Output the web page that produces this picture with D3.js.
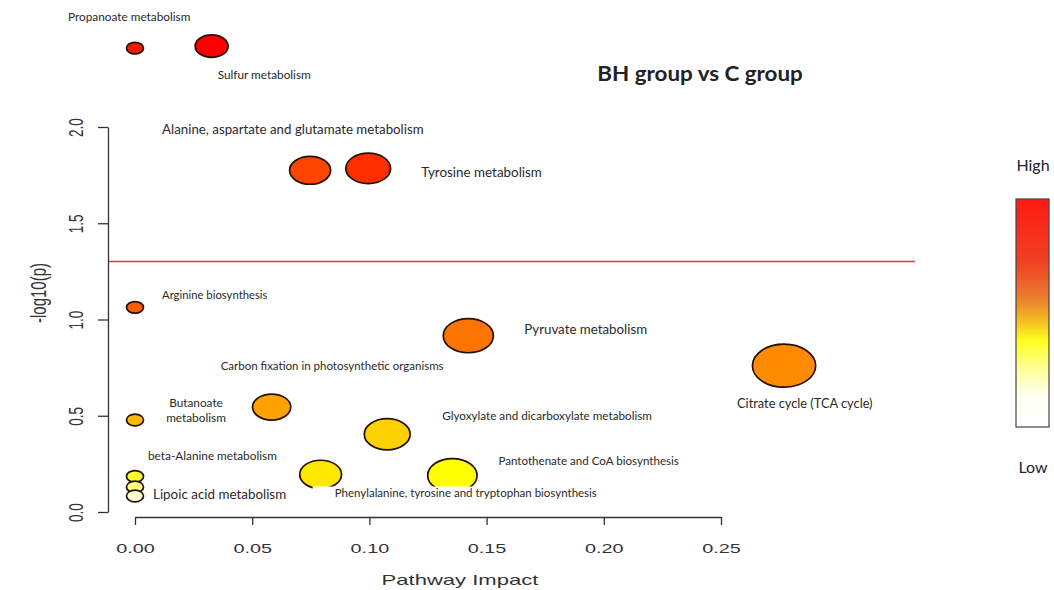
<!DOCTYPE html>
<html>
<head>
<meta charset="utf-8">
<script src="https://cdn.jsdelivr.net/npm/d3@7"></script>
<style>
  html, body { margin: 0; padding: 0; background: #fff; }
</style>
</head>
<body>
<svg id="chart" width="1054" height="590"></svg>
<script>
// Pathway topology results: BH group vs C group
const pathways = [
  "Propanoate metabolism",
  "Sulfur metabolism",
  "Alanine, aspartate and glutamate metabolism",
  "Tyrosine metabolism",
  "Arginine biosynthesis",
  "Pyruvate metabolism",
  "Carbon fixation in photosynthetic organisms",
  "Citrate cycle (TCA cycle)",
  "Butanoate metabolism",
  "Glyoxylate and dicarboxylate metabolism",
  "Pantothenate and CoA biosynthesis",
  "Phenylalanine, tyrosine and tryptophan biosynthesis",
  "beta-Alanine metabolism",
  "(unlabelled)",
  "Lipoic acid metabolism"
];
const impact = [0, 0.0327, 0.0747, 0.0995, 0, 0.1422, 0.0583, 0.2769, 0, 0.1076, 0.1354, 0.0792, 0, 0, 0];
const negLogP = [2.41, 2.42, 1.775, 1.785, 1.063, 0.916, 0.545, 0.760, 0.478, 0.404, 0.190, 0.195, 0.185, 0.130, 0.083];

const xTicks = [0, 0.05, 0.10, 0.15, 0.20, 0.25];
const yTicks = [0, 0.5, 1.0, 1.5, 2.0];
const threshold = -Math.log10(0.05);

const chartTitle = "BH group vs C group";
const xTitle = "Pathway Impact";
const yTitle = "-log10(p)";
const legendHigh = "High";
const legendLow = "Low";

// Text placement for each pathway label, relative to its bubble
const labelLayout = {
  "Propanoate metabolism": { dx: -67, dy: -31, size: 11.8 },
  "Sulfur metabolism": { dx: 6, dy: 29, size: 11.8 },
  "Alanine, aspartate and glutamate metabolism": { dx: -148, dy: -41, size: 13.3 },
  "Tyrosine metabolism": { dx: 53, dy: 4, size: 13.4 },
  "Arginine biosynthesis": { dx: 27, dy: -12, size: 11.3 },
  "Pyruvate metabolism": { dx: 56, dy: -6, size: 13.3 },
  "Carbon fixation in photosynthetic organisms": { dx: -51, dy: -41, size: 11.5 },
  "Citrate cycle (TCA cycle)": { dx: -47, dy: 38, size: 12.8 },
  "Butanoate metabolism": { dx: 61, dy: -17, size: 11.8, lines: ["Butanoate", "metabolism"], anchor: "middle" },
  "Glyoxylate and dicarboxylate metabolism": { dx: 55, dy: -18, size: 11.7 },
  "Pantothenate and CoA biosynthesis": { dx: 46, dy: -14, size: 11.6 },
  "Phenylalanine, tyrosine and tryptophan biosynthesis": { dx: 14, dy: 19, size: 11.5, box: true },
  "beta-Alanine metabolism": { dx: 13, dy: -21, size: 11.8 },
  "Lipoic acid metabolism": { dx: 18, dy: -2, size: 13.4 }
};

const W = 1054, H = 590;
const STRETCH = 1.47;   // horizontal stretch of the exported figure
const svg = d3.select("#chart");
svg.append("rect").attr("width", W).attr("height", H).attr("fill", "#fff");

const x = d3.scaleLinear().domain([0, 0.25]).range([135, 721]);
const y = d3.scaleLinear().domain([0, 2]).range([512, 127]);
const r = d3.scaleSqrt().domain([0, 0.28]).range([5.8, 21.6]);

// R-style heat.colors(n)
function hsv2rgb(h, s, v) {
  const h6 = (h * 6) % 6, i = Math.floor(h6), f = h6 - i;
  const p = v * (1 - s), q = v * (1 - s * f), t = v * (1 - s * (1 - f));
  const c = [[v, t, p], [q, v, p], [p, v, t], [p, q, v], [t, p, v], [v, p, q]][i];
  return d3.rgb(c[0] * 255, c[1] * 255, c[2] * 255).formatHex();
}
function heatColors(n) {
  const j = Math.floor(n / 4), i = n - j, out = [];
  for (let k = 0; k < i; k++) out.push(hsv2rgb(i > 1 ? (k / (i - 1)) / 6 : 0, 1, 1));
  const s0 = 1 - 1 / (2 * j), s1 = 1 / (2 * j);
  for (let k = 0; k < j; k++) out.push(hsv2rgb(1 / 6, j > 1 ? s0 + k * (s1 - s0) / (j - 1) : s0, 1));
  return out;
}

const data = pathways.map((name, i) => ({ name, impact: impact[i], p: negLogP[i] }));
const palette = heatColors(data.length);
const byRank = data.slice().sort((a, b) => b.p - a.p);
byRank.forEach((d, k) => d.color = palette[k]);

// Bubbles (most significant first, so lower points sit on top)
svg.append("g").selectAll("ellipse")
  .data(byRank)
  .join("ellipse")
  .attr("cx", d => x(d.impact))
  .attr("cy", d => y(d.p))
  .attr("rx", d => r(d.impact) * STRETCH)
  .attr("ry", d => r(d.impact))
  .attr("fill", d => d.color)
  .attr("stroke", "#241000")
  .attr("stroke-width", 1.7);

// Significance threshold p = 0.05
svg.append("line")
  .attr("x1", 108).attr("x2", 915)
  .attr("y1", y(threshold)).attr("y2", y(threshold))
  .attr("stroke", "#e2343c").attr("stroke-width", 1.6);

// Pathway labels
const labelFont = "Lato, 'Open Sans', sans-serif";
const labels = svg.append("g");
data.forEach(d => {
  const L = labelLayout[d.name];
  if (!L) return;
  const lx = x(d.impact) + L.dx, ly = y(d.p) + L.dy;
  const g = labels.append("g");
  const t = g.append("text")
    .attr("x", lx).attr("y", ly)
    .attr("font-family", labelFont)
    .attr("font-size", L.size)
    .attr("fill", "#2a2a2a")
    .attr("text-anchor", L.anchor || "start");
  const lines = L.lines || [d.name];
  lines.forEach((s, k) => t.append("tspan").attr("x", lx).attr("dy", k === 0 ? "0.35em" : "1.3em").text(s));
  if (L.box) {
    const bb = t.node().getBBox();
    g.insert("rect", "text")
      .attr("x", bb.x - 22).attr("y", bb.y)
      .attr("width", bb.width + 28).attr("height", bb.height + 6)
      .attr("fill", "#fff");
  }
});

// Axes
const axisFont = "'Liberation Sans', Arial, sans-serif";
const yAxis = svg.append("g")
  .attr("transform", "translate(108,0)")
  .call(d3.axisLeft(y).tickValues(yTicks).tickSize(10).tickSizeOuter(0).tickFormat(d3.format(".1f")));
yAxis.select(".domain").attr("stroke", "#333").attr("stroke-width", 1.3);
yAxis.selectAll(".tick line").attr("stroke", "#333").attr("stroke-width", 1.3);
yAxis.selectAll(".tick text")
  .attr("x", null).attr("dy", "0.36em")
  .attr("text-anchor", "middle")
  .attr("font-family", axisFont).attr("font-size", 13.5).attr("fill", "#333")
  .attr("transform", `translate(-32,0) scale(${STRETCH},1) rotate(-90)`);

const xAxis = svg.append("g")
  .attr("transform", "translate(0,517)")
  .call(d3.axisBottom(x).tickValues(xTicks).tickSize(8).tickSizeOuter(0).tickFormat(d3.format(".2f")));
xAxis.select(".domain").attr("stroke", "#333").attr("stroke-width", 1.3);
xAxis.selectAll(".tick line").attr("stroke", "#333").attr("stroke-width", 1.3);
xAxis.selectAll(".tick text")
  .attr("y", 0).attr("dy", "0.36em")
  .attr("font-family", axisFont).attr("font-size", 13.5).attr("fill", "#333")
  .attr("transform", `translate(0,31) scale(${STRETCH},1)`);

svg.append("text")
  .attr("transform", `translate(460,580) scale(${STRETCH},1)`)
  .attr("text-anchor", "middle").attr("dy", "0.36em")
  .attr("font-family", axisFont).attr("font-size", 15).attr("fill", "#333")
  .text(xTitle);

svg.append("text")
  .attr("transform", `translate(38,293) scale(${STRETCH},1) rotate(-90)`)
  .attr("text-anchor", "middle").attr("dy", "0.36em")
  .attr("font-family", axisFont).attr("font-size", 15).attr("fill", "#333")
  .text(yTitle);

// Title
svg.append("text")
  .attr("transform", "translate(700,74) scale(1.12,1)")
  .attr("dy", "0.36em")
  .attr("text-anchor", "middle")
  .attr("font-family", labelFont).attr("font-weight", "bold").attr("font-size", 20)
  .attr("fill", "#222")
  .text(chartTitle);

// Colour key
const defs = svg.append("defs");
const grad = defs.append("linearGradient").attr("id", "heatKey")
  .attr("x1", 0).attr("x2", 0).attr("y1", 0).attr("y2", 1);
[[0, "#ff1a14"], [0.28, "#ef4224"], [0.44, "#e9802e"], [0.54, "#f4c022"], [0.62, "#ffff1e"],
 [0.75, "#ffff9c"], [0.87, "#fffff6"], [1, "#ffffff"]]
  .forEach(([o, c]) => grad.append("stop").attr("offset", o).attr("stop-color", c));
svg.append("rect")
  .attr("x", 1016).attr("y", 199).attr("width", 33).attr("height", 228)
  .attr("fill", "url(#heatKey)").attr("stroke", "#444").attr("stroke-width", 1.2);
svg.append("text").attr("x", 1033).attr("y", 165).attr("dy", "0.36em")
  .attr("text-anchor", "middle").attr("font-family", labelFont).attr("font-size", 16).attr("fill", "#222")
  .text(legendHigh);
svg.append("text").attr("x", 1033).attr("y", 467).attr("dy", "0.36em")
  .attr("text-anchor", "middle").attr("font-family", labelFont).attr("font-size", 16).attr("fill", "#222")
  .text(legendLow);
</script>
</body>
</html>
